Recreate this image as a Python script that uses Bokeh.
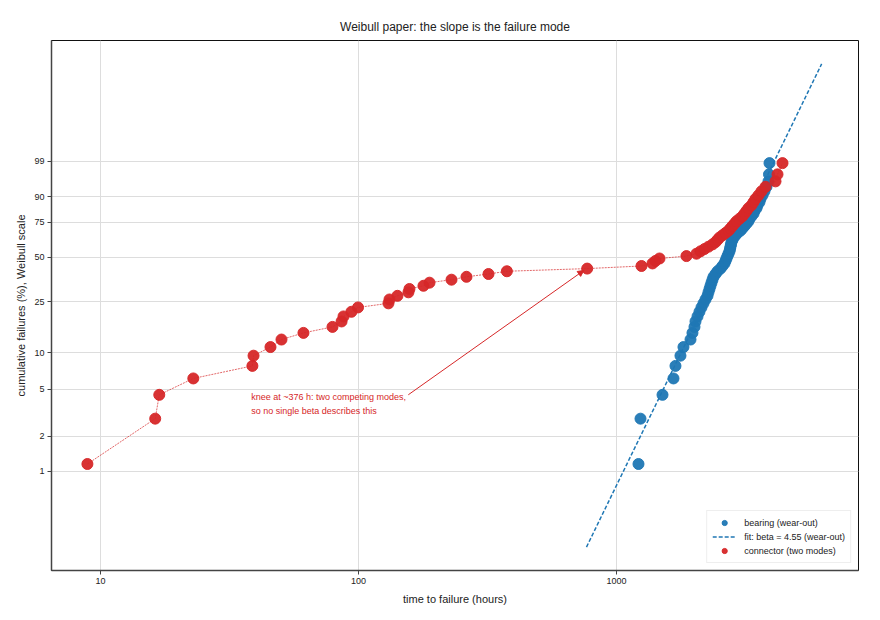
import numpy as np
from bokeh.plotting import figure
from bokeh.models import (FixedTicker, PrintfTickFormatter, Range1d, Label, Arrow,
                          NormalHead, Legend, LegendItem, ColumnDataSource)
from bokeh.embed import file_html
from bokeh.resources import INLINE

# ---- data (hours to failure, sorted) ----
bearing_hours = [1217, 1239, 1508, 1663, 1693, 1770, 1818, 1936, 1970, 2006,
                 2024, 2061, 2097, 2135, 2174, 2213, 2253, 2273, 2294, 2314,
                 2335, 2356, 2377, 2420, 2464, 2530, 2576, 2622, 2646, 2669,
                 2693, 2717, 2742, 2754, 2766, 2779, 2791, 2816, 2841, 2893,
                 2945, 3024, 3079, 3134, 3190, 3248, 3277, 3336, 3397, 3427,
                 3489, 3520, 3583, 3615, 3681, 3746, 3814, 3883, 3900, 3918]
connector_hours = [8.9, 16.3, 16.9, 22.9, 38.8, 39.2, 45.6, 50.3, 61.2, 79.3,
                   86.0, 87.5, 93.9, 99.6, 130.7, 131.9, 141.6, 156.2, 157.6, 178.6,
                   188.5, 229.4, 262.2, 319.1, 376.0, 770, 1250, 1379, 1416, 1468,
                   1867, 2042, 2116, 2193, 2273, 2356, 2420, 2464, 2508, 2576,
                   2646, 2717, 2766, 2816, 2867, 2919, 2997, 3079, 3134, 3190,
                   3248, 3336, 3397, 3458, 3551, 3648, 3781, 4134, 4208, 4400]
fit_beta = 4.55
fit_eta = 2920.0
fit_hours = [765, 6240]
y_tick_pct = [1, 2, 5, 10, 25, 50, 75, 90, 99]
x_tick_hours = [10, 100, 1000]
knee_hours = 376

BLUE = "#1f77b4"
RED = "#d62728"
FONT = "Liberation Sans"


def weibull_y(F):
    F = np.asarray(F, dtype=float)
    return np.log(-np.log(1.0 - F))


def median_rank(n):
    i = np.arange(1, n + 1)
    return (i - 0.3) / (n + 0.4)


b_src = ColumnDataSource(dict(t=bearing_hours,
                              y=weibull_y(median_rank(len(bearing_hours)))))
c_src = ColumnDataSource(dict(t=connector_hours,
                              y=weibull_y(median_rank(len(connector_hours)))))
fit_t = np.array(fit_hours, dtype=float)
fit_src = ColumnDataSource(dict(t=fit_t,
                                y=fit_beta * (np.log(fit_t) - np.log(fit_eta))))

p = figure(x_axis_type="log", output_backend="svg", toolbar_location=None,
           frame_width=807, frame_height=530,
           min_border_left=51, min_border_right=22,
           min_border_top=40, min_border_bottom=50,
           x_range=Range1d(6.46, 8670), y_range=Range1d(-6.557, 3.918),
           title="Weibull paper: the slope is the failure mode")

p.title.align = "center"
p.title.text_font = FONT
p.title.text_font_size = "12px"
p.title.text_font_style = "normal"
p.title.text_color = "#222222"
p.title.standoff = 13

p.outline_line_color = "#111111"
p.outline_line_width = 1
p.background_fill_color = "white"
p.border_fill_color = "white"

# axes
p.xaxis.ticker = FixedTicker(ticks=x_tick_hours, minor_ticks=[])
p.xaxis.formatter = PrintfTickFormatter(format="%d")
y_ticks = [float(v) for v in weibull_y(np.array(y_tick_pct) / 100.0)]
p.yaxis.ticker = FixedTicker(ticks=y_ticks, minor_ticks=[])
p.yaxis.major_label_overrides = {v: str(s) for v, s in zip(y_ticks, y_tick_pct)}
p.xaxis.axis_label = "time to failure (hours)"
p.yaxis.axis_label = "cumulative failures (%), Weibull scale"
for ax in (p.xaxis, p.yaxis):
    ax.axis_line_color = "#444444"
    ax.axis_line_width = 1.5
    ax.major_tick_line_color = "#444444"
    ax.major_tick_out = 4
    ax.major_tick_in = 0
    ax.minor_tick_line_color = None
    ax.major_label_text_font = FONT
    ax.major_label_text_font_size = "9px"
    ax.major_label_text_color = "#222222"
    ax.major_label_standoff = 3
    ax.axis_label_text_font = FONT
    ax.axis_label_text_font_size = "11px"
    ax.axis_label_text_font_style = "normal"
    ax.axis_label_text_color = "#222222"
p.xaxis.axis_label_standoff = 6
p.yaxis.axis_label_standoff = 4

p.xgrid.ticker = FixedTicker(ticks=x_tick_hours, minor_ticks=[])
p.ygrid.ticker = FixedTicker(ticks=y_ticks, minor_ticks=[])
p.grid.grid_line_color = "#dddddd"
p.grid.grid_line_width = 1

# glyphs
c_line = p.line("t", "y", source=c_src, line_color=RED, line_width=1,
                line_alpha=0.7, line_dash="2 1")
fit_r = p.line("t", "y", source=fit_src, line_color=BLUE, line_width=1.5,
               line_dash="4 2")
b_r = p.scatter("t", "y", source=b_src, marker="circle", size=11,
                fill_color=BLUE, line_color=BLUE, fill_alpha=0.95, line_alpha=0.95)
c_r = p.scatter("t", "y", source=c_src, marker="circle", size=11,
                fill_color=RED, line_color=RED, fill_alpha=0.95, line_alpha=0.95)

# annotation
p.add_layout(Arrow(end=NormalHead(size=6, fill_color=RED, line_color=RED),
                   x_start=156, y_start=-3.084, x_end=747, y_end=-0.627,
                   line_color=RED, line_width=1))
p.add_layout(Label(x=38.4, y=-3.137,
                   text=f"knee at ~{knee_hours} h: two competing modes,",
                   text_font=FONT, text_font_size="9px", text_color=RED,
                   text_baseline="middle", text_align="left"))
p.add_layout(Label(x=38.4, y=-3.414,
                   text="so no single beta describes this",
                   text_font=FONT, text_font_size="9px", text_color=RED,
                   text_baseline="middle", text_align="left"))

legend = Legend(items=[
    LegendItem(label="bearing (wear-out)", renderers=[b_r]),
    LegendItem(label="fit: beta = 4.55 (wear-out)", renderers=[fit_r]),
    LegendItem(label="connector (two modes)", renderers=[c_r]),
], location="bottom_right")
legend.label_text_font = FONT
legend.label_text_font_size = "9px"
legend.label_text_color = "#222222"
legend.border_line_color = "#dddddd"
legend.background_fill_alpha = 1
legend.margin = 7
legend.padding = 5
legend.spacing = 1
legend.label_height = 13
legend.glyph_height = 13
legend.glyph_width = 24
legend.label_standoff = 8
p.add_layout(legend)

open("out.html", "w").write(file_html(p, INLINE))
